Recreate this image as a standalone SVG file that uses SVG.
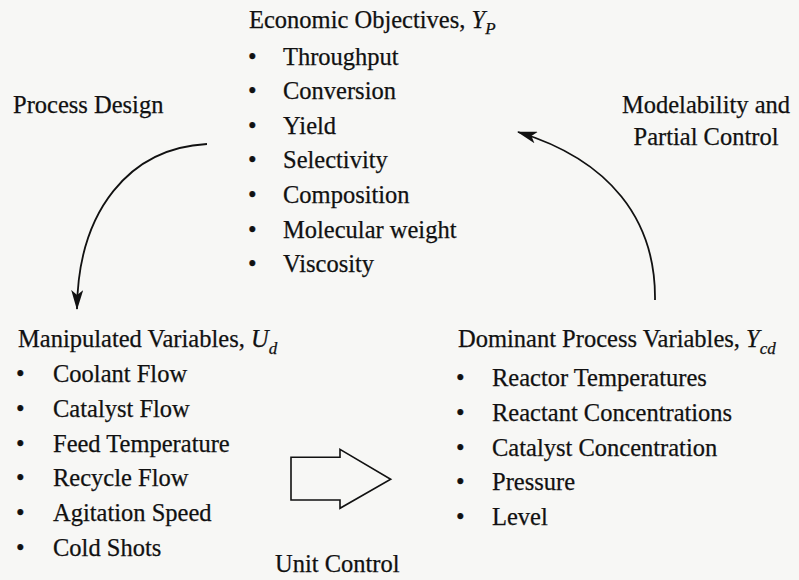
<svg xmlns="http://www.w3.org/2000/svg" width="799" height="580" viewBox="0 0 799 580">
<defs>
<style>
text{font-family:"Liberation Serif","Times New Roman",serif;font-size:24.5px;fill:#111;stroke:#111;stroke-width:0.25;}
.it{font-style:italic;}
.sub{font-style:italic;font-size:17px;}
.c{text-anchor:middle;}
.conn{fill:none;stroke:#111;stroke-width:1.8;}
.blk{fill:none;stroke:#111;stroke-width:1.6;stroke-linejoin:miter;}
</style>
<marker id="ah" viewBox="0 0 20 12" refX="19" refY="6" markerWidth="20" markerHeight="12" markerUnits="userSpaceOnUse" orient="auto">
<path d="M0,0 L20,6 L0,12 L5,6 Z" fill="#111"/>
</marker>
</defs>
<rect width="799" height="580" fill="#f7f7f5"/>
<g id="economic-objectives">
<text x="249" y="28">Economic Objectives, <tspan class="it">Y</tspan><tspan class="sub" dy="6">P</tspan></text>
<g>
<text x="248" y="65">•</text><text x="283" y="65">Throughput</text>
<text x="248" y="99">•</text><text x="283" y="99">Conversion</text>
<text x="248" y="134">•</text><text x="283" y="134">Yield</text>
<text x="248" y="168">•</text><text x="283" y="168">Selectivity</text>
<text x="248" y="203">•</text><text x="283" y="203">Composition</text>
<text x="248" y="238">•</text><text x="283" y="238">Molecular weight</text>
<text x="248" y="272">•</text><text x="283" y="272">Viscosity</text>
</g>
</g>
<g id="process-design"><text x="13" y="113">Process Design</text></g>
<g id="modelability"><text class="c" x="706" y="113">Modelability and</text><text class="c" x="706" y="145">Partial Control</text></g>
<g id="manipulated-variables">
<text x="18" y="347">Manipulated Variables, <tspan class="it">U</tspan><tspan class="sub" dy="7">d</tspan></text>
<text x="16" y="382">•</text><text x="53" y="382">Coolant Flow</text>
<text x="16" y="417">•</text><text x="53" y="417">Catalyst Flow</text>
<text x="16" y="452">•</text><text x="53" y="452">Feed Temperature</text>
<text x="16" y="486">•</text><text x="53" y="486">Recycle Flow</text>
<text x="16" y="521">•</text><text x="53" y="521">Agitation Speed</text>
<text x="16" y="556">•</text><text x="53" y="556">Cold Shots</text>
</g>
<g id="dominant-variables">
<text x="458" y="347">Dominant Process Variables, <tspan class="it">Y</tspan><tspan class="sub" dy="7">cd</tspan></text>
<text x="456" y="386">•</text><text x="492" y="386">Reactor Temperatures</text>
<text x="456" y="421">•</text><text x="492" y="421">Reactant Concentrations</text>
<text x="456" y="456">•</text><text x="492" y="456">Catalyst Concentration</text>
<text x="456" y="490">•</text><text x="492" y="490">Pressure</text>
<text x="456" y="525">•</text><text x="492" y="525">Level</text>
</g>
<g id="unit-control"><text x="275" y="572">Unit Control</text></g>
<g id="connectors">
<path class="conn" d="M207,144 C130,148 78,210 77,309" marker-end="url(#ah)"/>
<path class="conn" d="M655,300 C656,220 610,160 518,132" marker-end="url(#ah)"/>
<path class="blk" d="M291,457.3 L340,457.3 L340,449.3 L390.7,479.3 L340,508.3 L340,500 L291,500 Z"/>
</g>
</svg>
